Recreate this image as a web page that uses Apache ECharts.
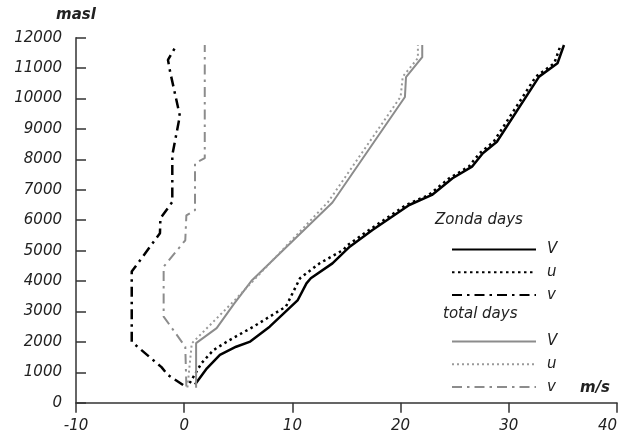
<!DOCTYPE html>
<html>
<head>
<meta charset="utf-8">
<script src="https://cdn.jsdelivr.net/npm/echarts@6/dist/echarts.min.js"></script>
<style>
  html, body { margin: 0; padding: 0; background: #fff; }
  #chart { width: 620px; height: 438px; }
</style>
</head>
<body>
<div id="chart"></div>
<script>
(function () {
  var myChart = echarts.init(document.getElementById("chart"));

  // wind speed (m/s), altitude (masl)
  const zondaV = [
    [1.0, 600], [2.1, 1130], [3.3, 1570], [4.8, 1840], [6.1, 2010],
    [7.9, 2500], [10.5, 3375], [11.3, 3925], [11.7, 4090], [13.7, 4580],
    [15.3, 5130], [17.4, 5680], [20.8, 6500], [22.9, 6830], [24.8, 7380],
    [26.6, 7760], [27.6, 8200], [28.9, 8580], [32.8, 10720], [34.5, 11160],
    [35.1, 11760],
  ];
  const zondaU = [
    [0.5, 640], [1.6, 1300], [2.7, 1730], [4.2, 2060], [6.4, 2500],
    [9.4, 3160], [10.7, 4090], [12.5, 4580], [14.7, 5020], [15.1, 5180],
    [17.1, 5680], [20.5, 6500], [22.6, 6830], [24.5, 7380], [26.3, 7760],
    [27.3, 8200], [28.6, 8580], [32.5, 10720], [34.2, 11160], [34.8, 11760],
  ];
  const zondaVv = [
    [-0.1, 580], [-1.5, 910], [-2.1, 1170], [-4.85, 2000], [-4.85, 4310],
    [-2.24, 5570], [-2.2, 6060], [-1.1, 6600], [-1.1, 8140], [-0.4, 9430],
    [-1.3, 10880], [-1.5, 11270], [-0.8, 11700],
  ];
  const totalV = [
    [1.1, 490], [1.1, 1960], [3.0, 2450], [4.6, 3250], [6.2, 4000],
    [13.7, 6580], [20.4, 10050], [20.5, 10700], [22.0, 11360], [22.0, 11760],
  ];
  const totalU = [
    [0.3, 500], [0.7, 1950], [4.7, 3380], [13.3, 6600], [20.0, 10060],
    [20.2, 10720], [21.6, 11330], [21.6, 11760],
  ];
  const totalVv = [
    [0.2, 530], [0.1, 1840], [-1.9, 2830], [-1.9, 4470], [0.1, 5340],
    [0.2, 6160], [1.0, 6330], [1.0, 7870], [1.9, 8040], [1.9, 11760],
  ];

  const font = "DejaVu Sans";
  const ink = "#222";
  const axisColor = "#333";
  const dashDot = [10, 5, 2.5, 5];

  function line(name, data, color, width, type) {
    return {
      name: name,
      type: "line",
      data: data,
      symbol: "none",
      animation: false,
      lineStyle: { color: color, width: width, type: type, cap: "butt" },
      itemStyle: { color: color },
    };
  }

  function legendBox(names, top) {
    return {
      orient: "vertical",
      left: 446,
      top: top,
      itemWidth: 84,
      itemHeight: 14,
      itemGap: 7.7,
      selectedMode: false,
      data: names,
      // hide the marker dot, keep only the line sample
      itemStyle: { opacity: 0 },
      formatter: (name) => name.split(" ")[1],
      textStyle: {
        fontFamily: font,
        fontStyle: "italic",
        fontSize: 15,
        color: ink,
        padding: [0, 0, 0, 6],
      },
    };
  }

  option = {
    backgroundColor: "#fff",
    animation: false,
    grid: { left: 76, right: 1.5, top: 37.7, bottom: 35.3 },
    xAxis: {
      type: "value",
      min: -10,
      max: 40,
      interval: 10,
      splitLine: { show: false },
      axisLine: { lineStyle: { color: axisColor, width: 1.5 } },
      axisTick: { inside: false, length: 10, lineStyle: { color: axisColor, width: 1.5 } },
      axisLabel: {
        margin: 16,
        fontFamily: font,
        fontStyle: "italic",
        fontSize: 15,
        color: ink,
        alignMaxLabel: "right",
      },
    },
    yAxis: {
      type: "value",
      min: 0,
      max: 12000,
      interval: 1000,
      name: "masl",
      nameLocation: "end",
      nameGap: 15,
      nameTextStyle: {
        fontFamily: font,
        fontStyle: "italic",
        fontWeight: "bold",
        fontSize: 15,
        color: ink,
      },
      splitLine: { show: false },
      axisLine: { onZero: false, lineStyle: { color: axisColor, width: 1.5 } },
      axisTick: { inside: true, length: 10, lineStyle: { color: axisColor, width: 1.5 } },
      axisLabel: {
        margin: 14,
        fontFamily: font,
        fontStyle: "italic",
        fontSize: 15,
        color: ink,
        formatter: (v) => String(v),
      },
    },
    legend: [
      legendBox(["Zonda V", "Zonda u", "Zonda v"], 237),
      legendBox(["total V", "total u", "total v"], 329),
    ],
    graphic: [
      {
        type: "text",
        left: 435,
        top: 213,
        style: { text: "Zonda days", font: "italic 15px " + font, fill: ink },
      },
      {
        type: "text",
        left: 443,
        top: 307,
        style: { text: "total days", font: "italic 15px " + font, fill: ink },
      },
      {
        type: "text",
        left: 580,
        top: 381,
        style: { text: "m/s", font: "italic bold 15px " + font, fill: ink },
      },
    ],
    series: [
      line("Zonda V", zondaV, "#000", 2.5, "solid"),
      line("Zonda u", zondaU, "#000", 2.5, [2.5, 3.5]),
      line("Zonda v", zondaVv, "#000", 2.5, dashDot),
      line("total V", totalV, "#8c8c8c", 2, "solid"),
      line("total u", totalU, "#9a9a9a", 2, [2, 3]),
      line("total v", totalVv, "#8c8c8c", 2, dashDot),
    ],
  };

  myChart.setOption(option, true);
})();
</script>
</body>
</html>
